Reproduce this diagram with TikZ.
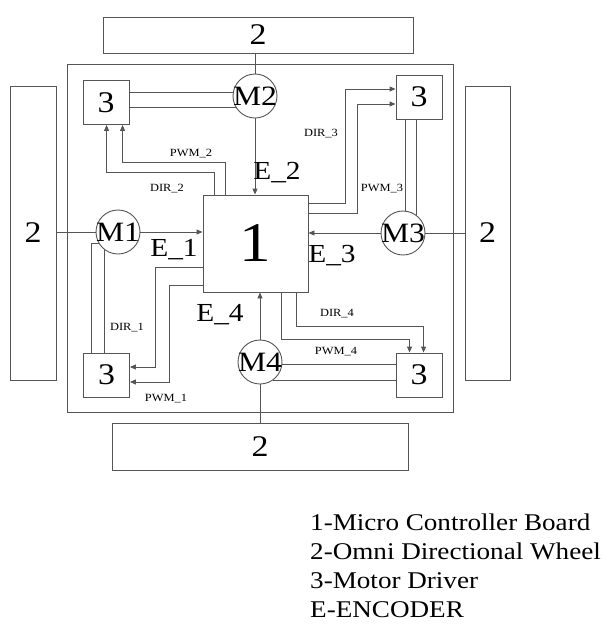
\documentclass[tikz,border=0pt]{standalone}
\usepackage{fontspec}
\setmainfont[FakeStretch=1.13]{Liberation Serif}
\usetikzlibrary{positioning, arrows.meta, calc}
\definecolor{lineg}{HTML}{555555}

\begin{document}
\begin{tikzpicture}[x=1pt, y=-1pt,
    line/.style={draw=lineg, line width=0.9pt},
    arr/.style={line, -{Triangle[length=6pt,width=5pt]}},
    wheel/.style={line, inner sep=0pt, font=\fontsize{30}{30}\selectfont},
    driver/.style={line, minimum width=46pt, minimum height=44pt, inner sep=0pt,
                   font=\fontsize{30}{30}\selectfont},
    motor/.style={line, circle, minimum size=44pt, inner sep=0pt,
                  font=\fontsize{28}{28}\selectfont},
    sig/.style={font=\fontsize{11}{11}\selectfont},
    enc/.style={font=\fontsize{26}{26}\selectfont},
    legend/.style={anchor=base west, inner sep=0pt, font=\fontsize{24}{24}\selectfont}]
    \useasboundingbox (0,0) rectangle (608,625);

    % robot base and wheels
    \draw[line] (67,64) rectangle (453,412);
    \node[wheel, minimum width=310pt, minimum height=36pt] (w2) at (258,35) {2};
    \node[wheel, minimum width=296pt, minimum height=47pt] (w4) at (260,446.5) {2};
    \node[wheel, minimum width=46pt, minimum height=294pt] (w1) at (33,233) {2};
    \node[wheel, minimum width=45pt, minimum height=294pt] (w3) at (487.5,233) {2};

    % controller board
    \node[line, minimum width=105pt, minimum height=97pt, inner sep=0pt,
          font=\fontsize{56}{56}\selectfont] (mcu) at (255.5,243.5) {1};

    % motor drivers
    \node[driver] (d2) at (106,102.5) {3};
    \node[driver] (d3) at (419,97) {3};
    \node[driver] (d1) at (106.5,375) {3};
    \node[driver] (d4) at (419,375) {3};

    % motors
    \node[motor] (m2) at (255,96) {\makebox[0pt]{M2}};
    \node[motor] (m3) at (403,233) {\makebox[0pt]{M3}};
    \node[motor] (m1) at (118,232) {\makebox[0pt]{M1}};
    \node[motor] (m4) at (260,362) {\makebox[0pt]{M4}};

    % motors to wheels
    \draw[line] (w2.south -| m2) -- (m2.north);
    \draw[line] (m3.east) -- (m3.east -| w3.west);
    \draw[line] (m1.west -| w1.east) -- (m1.west);
    \draw[line] (m4.south) -- (m4.south |- w4.north);

    % drivers to motors
    \draw[line] (d2.east |- m2.170) -- (m2.170);
    \draw[line] (d2.east |- m2.210) -- (m2.210);
    \draw[line] (m3.85 |- d3.south) -- (m3.85);
    \draw[line] (m3.54 |- d3.south) -- (m3.54);
    \draw[line] ($(d1.north west)+(8,0)$) |- (m1.210);
    \draw[line] (m1.234 |- d1.north) -- (m1.234);
    \draw[line] (m4.-5) -- (m4.-5 -| d4.west);
    \draw[line] (m4.-55) -- (m4.-55 -| d4.west);

    % encoders
    \draw[arr] (m2.south) -- (m2.south |- mcu.north);
    \draw[arr] (m3.west) -- (m3.west -| mcu.east);
    \draw[arr] (m1.east) -- (m1.east -| mcu.west);
    \draw[arr] (m4.north) -- (m4.north |- mcu.south);
    \node[enc] (e2) at (277,173) {E\_2};
    \node[enc] (e3) at (332,256) {E\_3};
    \node[enc] (e1) at (174,250) {E\_1};
    \node[enc] (e4) at (220,315) {E\_4};

    % dir and pwm lines
    \draw[arr] ($(mcu.north west)+(12,0)$) -- ++(0,-22) -| ($(d2.south west)+(24,0)$);
    \draw[arr] ($(mcu.north west)+(23,0)$) -- ++(0,-32) -| ($(d2.south west)+(40,0)$);
    \draw[arr] ($(mcu.north east)+(0,9)$) -- ++(37,0) |- ($(d3.west)+(0,-8)$);
    \draw[arr] ($(mcu.north east)+(0,19)$) -- ++(49,0) |- ($(d3.west)+(0,7)$);
    \draw[arr] ($(mcu.north west)+(0,73)$) -- ++(-47,0) |- ($(d1.east)+(0,-8)$);
    \draw[arr] ($(mcu.north west)+(0,91)$) -- ++(-33,0) |- ($(d1.east)+(0,7)$);
    \draw[arr] ($(mcu.south west)+(94,0)$) -- ++(0,34) -| ($(d4.north west)+(28,0)$);
    \draw[arr] ($(mcu.south west)+(79,0)$) -- ++(0,47) -| ($(d4.north west)+(14,0)$);
    \node[sig] (pwm2) at (191,154) {PWM\_2};
    \node[sig] (dir2) at (167,189) {DIR\_2};
    \node[sig] (dir3) at (321,134) {DIR\_3};
    \node[sig] (pwm3) at (382,189) {PWM\_3};
    \node[sig] (dir1) at (127,328) {DIR\_1};
    \node[sig] (pwm1) at (166,399) {PWM\_1};
    \node[sig] (dir4) at (337,314) {DIR\_4};
    \node[sig] (pwm4) at (336,352) {PWM\_4};

    % key
    \node[legend] (key1) at (310,530) {1-Micro Controller Board};
    \node[legend] (key2) at (310,559) {2-Omni Directional Wheel};
    \node[legend] (key3) at (310,588) {3-Motor Driver};
    \node[legend] (key4) at (310,617) {E-ENCODER};
\end{tikzpicture}
\end{document}
